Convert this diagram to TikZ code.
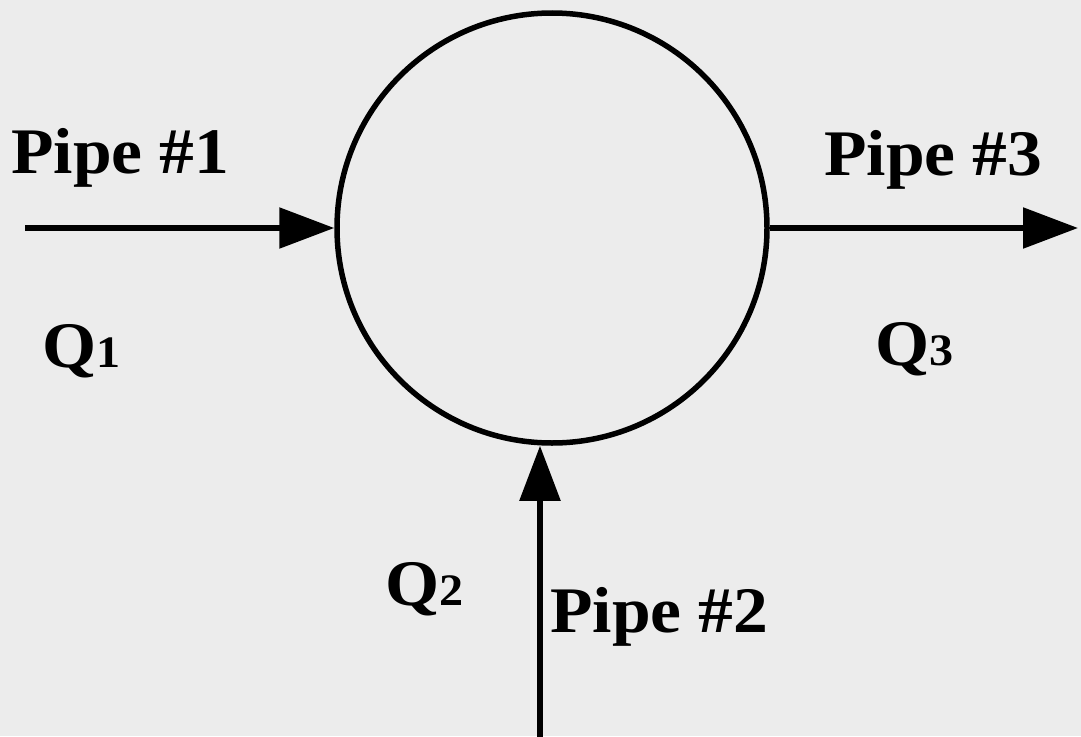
\documentclass[tikz,border=0pt]{standalone}
\usepackage{fontspec}
\setmainfont{Liberation Serif}
\newfontfamily\labfont{Liberation Serif}[FakeStretch=1.07]
\usetikzlibrary{arrows.meta}
\definecolor{paper}{RGB}{236,236,236}
\tikzset{
  pipe/.style={line width=5.5pt, -{Triangle[length=55pt,width=40pt]}},
  junction/.style={circle, draw, line width=5.5pt, inner sep=0pt, minimum size=430pt},
  lab/.style={anchor=base west, inner sep=0pt, font=\labfont\bfseries\fontsize{65}{70}\selectfont},
}
\newcommand{\qsub}[1]{{\fontsize{45}{48}\selectfont #1}}
\begin{document}
\begin{tikzpicture}[x=1pt,y=-1pt]
\fill[paper] (0,0) rectangle (1081,736);
\useasboundingbox (0,0) rectangle (1081,736);
\node[junction] (J) at (552,228) {};
\coordinate (p1s) at (25,228);
\coordinate (p3e) at (1078,228);
\coordinate (p2s) at (540,740);
\draw[pipe] (p1s) -- (J.west |- p1s);
\draw[pipe] (J.east |- p3e) -- (p3e);
\draw[pipe] (p2s) -- (p2s |- J.south);
\node[lab] (t1) at (11,173) {Pipe \#1};
\node[lab] (t3) at (824,175) {Pipe \#3};
\node[lab] (t2) at (550,632) {Pipe \#2};
\node[lab] (q1) at (42,367) {Q\qsub{1}};
\node[lab] (q3) at (875,365) {Q\qsub{3}};
\node[lab] (q2) at (385,605) {Q\qsub{2}};
\end{tikzpicture}
\end{document}
